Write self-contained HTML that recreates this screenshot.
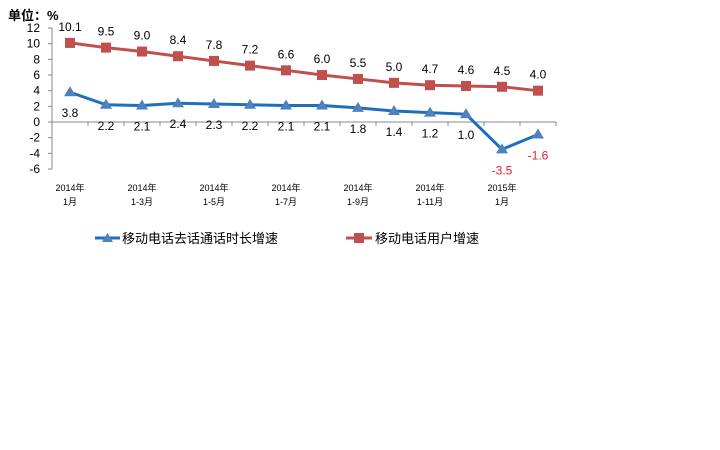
<!DOCTYPE html>
<html><head><meta charset="utf-8"><style>body{margin:0;background:#fff}svg{display:block}</style></head><body>
<svg width="720" height="450" viewBox="0 0 720 450" xmlns="http://www.w3.org/2000/svg" font-family="'Liberation Sans','Noto Sans CJK SC',sans-serif">
<rect width="720" height="450" fill="#fff"/>
<text x="8" y="20" font-size="13" font-weight="bold">单位：%</text>
<g stroke="#888" stroke-width="1">
<line x1="52" y1="28" x2="52" y2="169"/>
<line x1="52" y1="122" x2="556" y2="122"/>
<g id="ticks"></g>
</g>
<g font-size="12" text-anchor="end" id="ylab"></g>
<g id="xlab" font-size="9" text-anchor="middle"></g>
<polyline id="red" fill="none" stroke="#c0504d" stroke-width="3"/>
<polyline id="blue" fill="none" stroke="#1f6fbf" stroke-width="3"/>
<g id="marks"></g>
<g id="labs" font-size="12" text-anchor="middle"></g>
<line x1="95" y1="238" x2="120" y2="238" stroke="#1f6fbf" stroke-width="3"/>
<polygon points="107.5,233 113,242 102,242" fill="#4f81bd"/>
<text x="122" y="243" font-size="13">移动电话去话通话时长增速</text>
<line x1="346" y1="238" x2="372" y2="238" stroke="#c0504d" stroke-width="3"/>
<rect x="354" y="233" width="10" height="10" fill="#c0504d"/>
<text x="375" y="243" font-size="13">移动电话用户增速</text>
</svg>
<script>
const ns="http://www.w3.org/2000/svg";
const Y=v=>122-v*7.83, X=i=>70+36*i;
const red=[10.1,9.5,9.0,8.4,7.8,7.2,6.6,6.0,5.5,5.0,4.7,4.6,4.5,4.0];
const blue=[3.8,2.2,2.1,2.4,2.3,2.2,2.1,2.1,1.8,1.4,1.2,1.0,-3.5,-1.6];
function el(p,t,a,txt){const e=document.createElementNS(ns,t);for(const k in a)e.setAttribute(k,a[k]);if(txt!=null)e.textContent=txt;document.getElementById(p).appendChild(e);return e;}
for(let v=-6;v<=12;v+=2){el('ticks','line',{x1:48,x2:52,y1:Y(v),y2:Y(v)});el('ylab','text',{x:40,y:Y(v)+4},v);}
for(let k=0;k<=14;k++)el('ticks','line',{x1:52+36*k,x2:52+36*k,y1:122,y2:126});
const xl=[["2014年","1月"],["2014年","1-3月"],["2014年","1-5月"],["2014年","1-7月"],["2014年","1-9月"],["2014年","1-11月"],["2015年","1月"]];
xl.forEach((l,j)=>{el('xlab','text',{x:X(2*j),y:191},l[0]);el('xlab','text',{x:X(2*j),y:205},l[1]);});
document.getElementById('red').setAttribute('points',red.map((v,i)=>X(i)+','+Y(v)).join(' '));
document.getElementById('blue').setAttribute('points',blue.map((v,i)=>X(i)+','+Y(v)).join(' '));
red.forEach((v,i)=>{el('marks','rect',{x:X(i)-5,y:Y(v)-5,width:10,height:10,fill:'#c0504d'});el('labs','text',{x:X(i),y:Y(v)-12},v.toFixed(1));});
blue.forEach((v,i)=>{const x=X(i),y=Y(v);el('marks','polygon',{points:`${x},${y-6} ${x+6},${y+4} ${x-6},${y+4}`,fill:'#4f81bd'});
el('labs','text',{x:x,y:y+25,fill:v<0?'#e0202a':'#000'},v.toFixed(1));});
</script>
</body></html>
